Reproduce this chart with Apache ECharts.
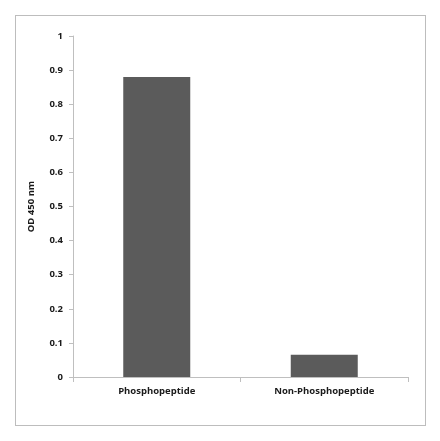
<!DOCTYPE html>
<html>
<head>
<meta charset="utf-8">
<script src="https://cdn.jsdelivr.net/npm/echarts@6/dist/echarts.min.js"></script>
<style>
  html, body { margin: 0; padding: 0; background: #fff; }
  #frame { position: absolute; left: 15px; top: 15px; width: 409px; height: 409px; border: 1px solid #bdbdbd; }
  #chart { position: absolute; left: 0; top: 0; width: 440px; height: 441px; }
</style>
</head>
<body>
<div id="frame"></div>
<div id="chart"></div>
<script>
// categories and OD readings
var categories = ["Phosphopeptide", "Non-Phosphopeptide"];
var odValues = [0.88, 0.065];

var axisGray = "#bfbfbf";
var chart = echarts.init(document.getElementById("chart"));
var option = {
  animation: false,
  grid: { left: 73, right: 32, top: 36, bottom: 64 },
  xAxis: {
    type: "category",
    data: categories,
    axisLine: { lineStyle: { color: axisGray } },
    axisTick: { show: true, alignWithLabel: false, length: 5, lineStyle: { color: axisGray } },
    axisLabel: { color: "#1a1a1a", fontWeight: "bold", fontSize: 9.5, fontFamily: "Open Sans", margin: 9 }
  },
  yAxis: {
    type: "value",
    min: 0, max: 1, interval: 0.1,
    name: "OD 450 nm",
    nameLocation: "middle",
    nameGap: 37,
    nameTextStyle: { color: "#1a1a1a", fontWeight: "bold", fontSize: 9.5, fontFamily: "Open Sans" },
    axisLine: { show: true, lineStyle: { color: axisGray } },
    axisTick: { show: true, length: 4, lineStyle: { color: axisGray } },
    splitLine: { show: false },
    axisLabel: {
      color: "#1a1a1a", fontWeight: "bold", fontSize: 9.5, fontFamily: "Open Sans", margin: 10,
      formatter: function (v) { return String(Math.round(v * 10) / 10); }
    }
  },
  series: [{
    type: "bar",
    data: odValues,
    barWidth: "40%",
    itemStyle: { color: "#5b5b5b" }
  }]
};
chart.setOption(option);
</script>
</body>
</html>
